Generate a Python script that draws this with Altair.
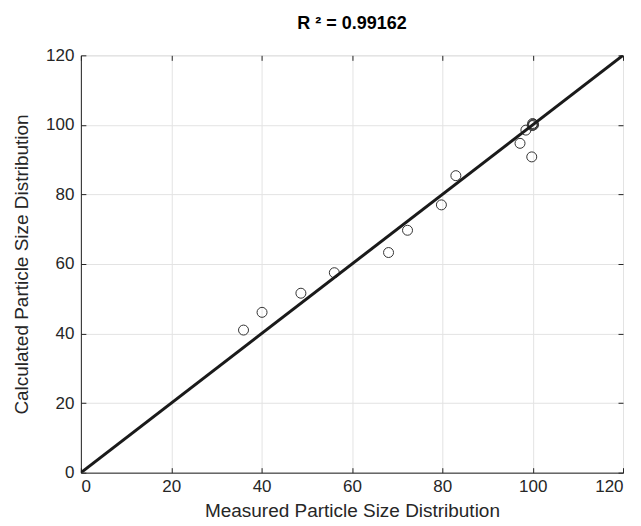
import altair as alt
import pandas as pd

measured = [36.0, 40.1, 48.7, 56.1, 68.1, 72.3, 79.8, 83.0, 97.2, 98.5, 99.8, 100.0, 100.2, 99.9, 100.1]
calculated = [41.0, 46.1, 51.6, 57.5, 63.3, 69.7, 77.0, 85.4, 94.7, 98.5, 90.8, 100.4, 100.0, 99.8, 100.2]
fit_x = [0, 120]
fit_y = [0, 120]
ticks = [0, 20, 40, 60, 80, 100, 120]

pts = pd.DataFrame({"m": measured, "c": calculated})
fit = pd.DataFrame({"m": fit_x, "c": fit_y})

xscale = alt.Scale(domain=[0, 120], nice=False, zero=False)
yscale = alt.Scale(domain=[0, 120], nice=False, zero=False)

common = dict(values=ticks, grid=True, gridColor="#e3e3e3", ticks=False,
              domainColor="#262626", labelColor="#262626", titleColor="#262626",
              labelFontSize=17, titleFontSize=19, titleFontWeight="normal",
              labelFont="Liberation Sans", titleFont="Liberation Sans")

xaxis = alt.Axis(title="Measured Particle Size Distribution", labelPadding=6,
                 titlePadding=7, **common)
yaxis = alt.Axis(title="Calculated Particle Size Distribution", labelPadding=7,
                 titlePadding=14, **common)


def tick_axis(orient):
    return alt.Axis(orient=orient, values=ticks, labels=False, title=None, domain=False,
                    grid=False, ticks=True, tickSize=5, tickColor="#262626",
                    tickWidth=1, offset=-5)


points = alt.Chart(pts).mark_point(shape="circle", filled=False, size=100, stroke="#333333",
                                   strokeWidth=1, opacity=1).encode(
    x=alt.X("m:Q", scale=xscale, axis=xaxis),
    y=alt.Y("c:Q", scale=yscale, axis=yaxis),
)

line = alt.Chart(fit).mark_line(color="#1a1a1a", strokeWidth=3, clip=True).encode(
    x=alt.X("m:Q", scale=xscale, axis=tick_axis("top")),
    y=alt.Y("c:Q", scale=yscale, axis=tick_axis("right")),
)

inner = alt.Chart(fit).mark_line(opacity=0).encode(
    x=alt.X("m:Q", scale=xscale, axis=tick_axis("bottom")),
    y=alt.Y("c:Q", scale=yscale, axis=tick_axis("left")),
)

chart = alt.layer(points, line, inner).resolve_axis(x="independent", y="independent").properties(
    width=543, height=418,
    title=alt.TitleParams(text="R ² = 0.99162", fontSize=18, fontWeight="bold",
                          font="Liberation Sans", color="#000000", offset=13, anchor="middle"),
    autosize=alt.AutoSizeParams(type="none"),
    padding={"left": 73, "top": 47, "right": 10, "bottom": 52},
).configure_view(stroke="#262626", strokeWidth=1).configure(background="white")

chart.save("out.html", embed_options={"renderer": "svg", "actions": False})
